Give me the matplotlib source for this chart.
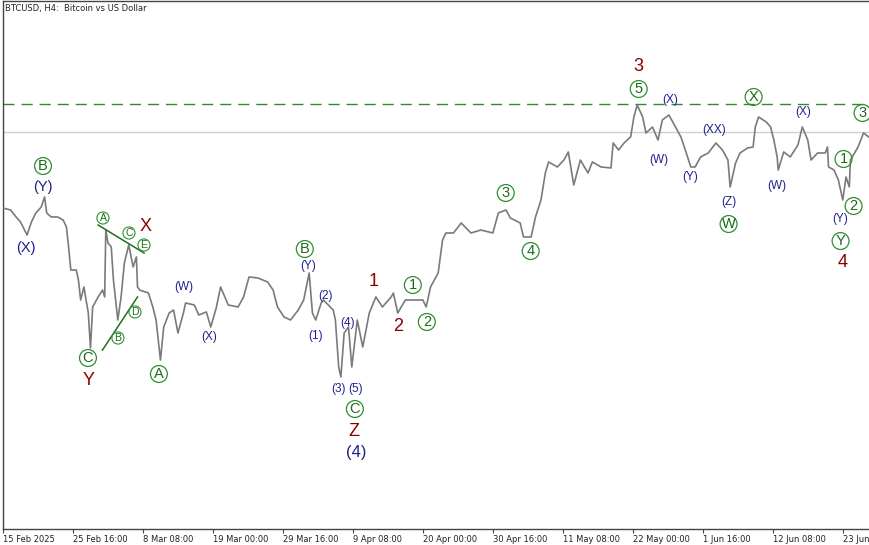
import matplotlib
matplotlib.use("Agg")
import matplotlib.pyplot as plt

# H4 bar index counted from 15 Feb 2025 00:00, and price
bars = [0, 7, 12, 16, 22, 26, 30, 35, 38, 40, 44, 50, 55, 58, 60, 62, 67, 69, 71, 74,
        78, 80, 82, 87, 91, 93, 94, 96, 99, 101, 105, 108, 111, 115, 119, 122, 123, 125,
        133, 137, 140, 144, 147, 152, 156, 160, 165, 167, 175, 179, 186, 190, 195, 199,
        206, 215, 220, 225, 233, 242, 247, 251, 257, 263, 270, 275, 280, 283, 286, 291,
        293, 302, 304, 307, 309, 312, 316, 319, 324, 329, 335, 341, 347, 355, 357, 361,
        368, 376, 384, 387, 391, 398, 402, 405, 412, 419, 428, 437, 448, 453, 460, 464,
        473, 476, 483, 487, 492, 496, 499, 507, 513, 517, 522, 528, 535, 539, 547, 556,
        558, 563, 568, 574, 577, 580, 585, 588, 594, 599, 603, 609, 613, 620, 624, 629,
        633, 638, 645, 652, 658, 663, 665, 670, 674, 681, 686, 688, 691, 698, 702, 705,
        708, 709, 714, 720, 727, 731, 736, 739, 745, 752, 754, 755, 760, 764, 768, 771,
        774, 775, 782, 787, 793]
prices = [97550, 97270, 96310, 95620, 93820, 95620, 96860, 97690, 99070, 96860, 96310,
          96310, 95890, 94930, 92170, 88990, 88990, 87610, 84850, 86650, 83060, 78230,
          83890, 85270, 86230, 85270, 94510, 92720, 92170, 87610, 82090, 85270, 89960,
          92440, 89410, 90790, 86650, 86230, 85820, 83890, 82090, 76570, 81130, 83060,
          83470, 80300, 83060, 84440, 84160, 82780, 83200, 81130, 83750, 86650, 84160,
          83890, 85270, 88030, 87890, 87340, 86230, 83890, 82510, 82090, 83470, 84850,
          88580, 83060, 82090, 84440, 84850, 83470, 82090, 75610, 74230, 80300, 81130,
          75610, 82090, 78370, 83060, 85270, 83890, 85270, 85820, 83060, 84850, 84850,
          84850, 83890, 86650, 88580, 93130, 94100, 94100, 95480, 94100, 94510, 94100,
          96860, 97270, 96170, 95480, 93550, 93550, 96310, 98650, 102380, 103900, 103210,
          104170, 105280, 100720, 104170, 102380, 103900, 103210, 103070, 106520, 105550,
          106520, 107350, 110110, 111760, 110110, 107900, 108730, 106930, 109690, 110380,
          109280, 107350, 105550, 103210, 103210, 104590, 105140, 106520, 105550, 104170,
          100450, 103760, 105140, 105830, 105970, 108730, 110110, 109420, 108730, 106930,
          104590, 102790, 105280, 104590, 106240, 108730, 106930, 104170, 105140, 105140,
          105970, 103210, 102790, 101410, 98650, 101830, 100450, 104170, 105970, 107900,
          107210]

tick_bars = [0, 64, 128, 192, 256, 320, 384, 448, 512, 576, 640, 704, 768]
tick_labels = ["15 Feb 2025", "25 Feb 16:00", "8 Mar 08:00", "19 Mar 00:00",
               "29 Mar 16:00", "9 Apr 08:00", "20 Apr 00:00", "30 Apr 16:00",
               "11 May 08:00", "22 May 00:00", "1 Jun 16:00", "12 Jun 08:00",
               "23 Jun 00:00"]

high_level = 111900
last_level = 108040

# triangle boundary lines (bar, price)
tri_upper = ([87, 129], [95200, 91340])
tri_lower = ([91, 123], [77950, 85270])

# wave labels: (text, bar, price, kind)
labels = [
    ("B", 36.6, 103340, "circ"), ("(Y)", 36.6, 100450, "navy"), ("(X)", 21, 92030, "navy"),
    ("A", 91.4, 96170, "circ_s"), ("C", 115.2, 94100, "circ_s"), ("X", 130.7, 95060, "red"),
    ("E", 128.9, 92440, "circ_s"), ("D", 120.7, 83200, "circ_s"), ("B", 105.1, 79610, "circ_s"),
    ("C", 77.7, 76850, "circ"), ("Y", 78.6, 73810, "red"), ("A", 142.6, 74640, "circ"),
    ("(W)", 165.4, 86650, "navy_s"), ("(X)", 188.3, 79750, "navy_s"),
    ("B", 276, 91890, "circ"), ("(Y)", 278.8, 89540, "navy_s"),
    ("(2)", 295.2, 85400, "navy_s"), ("(1)", 286.1, 79880, "navy_s"),
    ("(4)", 315.4, 81680, "navy_s"), ("(3)", 307, 72570, "navy_s"), ("(5)", 322.7, 72570, "navy_s"),
    ("C", 321.8, 69810, "circ"), ("Z", 320.8, 66640, "red"), ("(4)", 322.7, 63740, "navy_l"),
    ("1", 339.1, 87340, "red"), ("2", 361.1, 81260, "red"),
    ("1", 374.8, 86920, "circ"), ("2", 387.6, 81820, "circ"),
    ("3", 459.8, 99620, "circ"), ("4", 482.6, 91610, "circ"),
    ("3", 581.4, 117140, "red"), ("5", 581.4, 113970, "circ"),
    ("(X)", 610.6, 112450, "navy_s"), ("(W)", 599.6, 104170, "navy_s"),
    ("(XX)", 650.8, 108310, "navy_s"), ("(Y)", 628.9, 101830, "navy_s"),
    ("(Z)", 663.6, 98380, "navy_s"), ("W", 663.6, 95340, "circ"),
    ("X", 686.5, 112870, "circ"), ("(X)", 732.2, 110800, "navy_s"),
    ("(W)", 707.5, 100580, "navy_s"), ("1", 768.7, 104310, "circ"),
    ("2", 777.9, 97820, "circ"), ("(Y)", 766, 96030, "navy_s"),
    ("Y", 766, 92990, "circ"), ("4", 767.8, 89960, "red"), ("3", 786.1, 110660, "circ"),
]

navy = "#1f1f8f"
dark_red = "#8b0000"
green_edge = "#2f8f2f"
green_text = "#1a6b1a"

fig = plt.figure(figsize=(8.69, 5.45), dpi=100)
ax = fig.add_axes([3 / 869, 16 / 545, 866 / 869, 528 / 545])

ax.plot(bars, prices, color="#7a7a7a", lw=1.2, zorder=3)
ax.axhline(high_level, color="#2e8b2e", lw=1.0, ls=(0, (8, 5)), zorder=2)
ax.axhline(last_level, color="#cfcfcf", lw=1.0, zorder=1)
ax.plot(*tri_upper, color="#1f6f1f", lw=1.1, zorder=4)
ax.plot(*tri_lower, color="#1f6f1f", lw=1.1, zorder=4)

for txt, b, p, kind in labels:
    kw = dict(ha="center", va="center", family=["Liberation Sans", "DejaVu Sans"], zorder=5)
    if kind == "circ":
        ax.text(b, p, txt, fontsize=10.5, color=green_text,
                bbox=dict(boxstyle="circle,pad=0.1", fc="none", ec=green_edge, lw=0.9), **kw)
    elif kind == "circ_s":
        ax.text(b, p, txt, fontsize=7.5, color=green_text,
                bbox=dict(boxstyle="circle,pad=0.1", fc="none", ec=green_edge, lw=0.8), **kw)
    elif kind == "red":
        ax.text(b, p, txt, fontsize=13, color=dark_red, **kw)
    elif kind == "navy":
        ax.text(b, p, txt, fontsize=10.5, color=navy, **kw)
    elif kind == "navy_l":
        ax.text(b, p, txt, fontsize=12, color=navy, **kw)
    else:
        ax.text(b, p, txt, fontsize=8.5, color=navy, **kw)

ax.text(0.002, 0.995, "BTCUSD, H4:  Bitcoin vs US Dollar", transform=ax.transAxes,
        ha="left", va="top", fontsize=6, color="#222222")

ax.set_xlim(0, 792)
ax.set_ylim(53250, 126114)
ax.set_yticks([])
ax.set_xticks(tick_bars)
ax.set_xticklabels(tick_labels, fontsize=6, ha="left")
ax.tick_params(axis="x", length=3, width=0.8, color="#444444", pad=1.5, labelcolor="#222222")
for s in ["left", "bottom", "top"]:
    ax.spines[s].set_color("#444444")
    ax.spines[s].set_linewidth(1.0)
ax.spines["right"].set_visible(False)

fig.savefig("out.png", dpi=100)
